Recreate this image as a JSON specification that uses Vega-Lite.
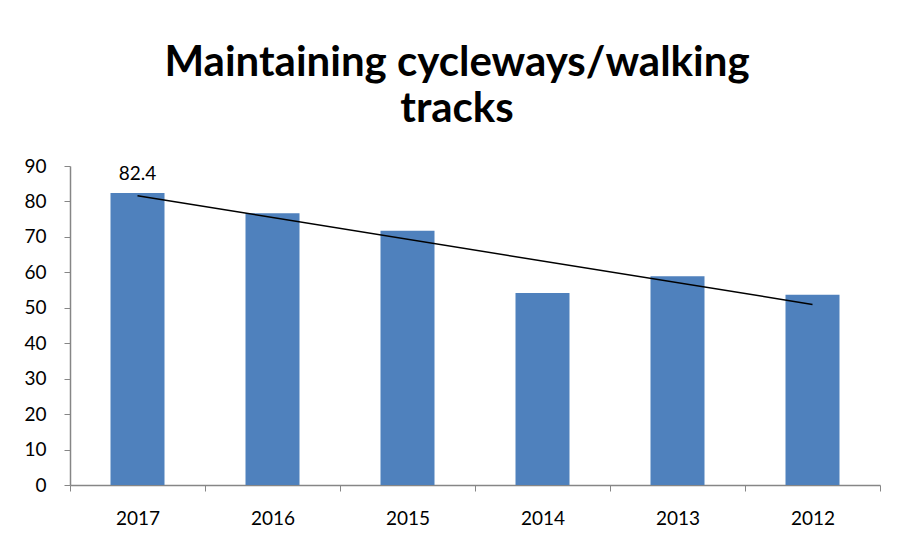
{
  "$schema": "https://vega.github.io/schema/vega-lite/v6.json",
  "width": 810,
  "height": 319,
  "autosize": "none",
  "padding": {"left": 70, "top": 166, "right": 18, "bottom": 56},
  "background": "white",
  "title": {
    "text": ["Maintaining cycleways/walking", "tracks"],
    "font": "Lato",
    "fontSize": 42,
    "fontWeight": "bold",
    "color": "#000000",
    "anchor": "middle",
    "lineHeight": 46,
    "offset": 26,
    "dx": -18
  },
  "datasets": {
    "bars": [
      {"year": "2017", "value": 82.4, "label": "82.4"},
      {"year": "2016", "value": 76.7, "label": ""},
      {"year": "2015", "value": 71.7, "label": ""},
      {"year": "2014", "value": 54.2, "label": ""},
      {"year": "2013", "value": 58.9, "label": ""},
      {"year": "2012", "value": 53.7, "label": ""}
    ],
    "trend": [
      {"year": "2017", "value": 81.6},
      {"year": "2012", "value": 50.95}
    ]
  },
  "encoding": {
    "x": {
      "field": "year",
      "type": "nominal",
      "sort": ["2017", "2016", "2015", "2014", "2013", "2012"],
      "scale": {"paddingInner": 0, "paddingOuter": 0},
      "axis": {
        "title": null,
        "labelAngle": 0,
        "labelFont": "Lato",
        "labelFontSize": 19,
        "labelColor": "#000000",
        "labelPadding": 18,
        "tickBand": "extent",
        "tickSize": 6,
        "tickColor": "#868686",
        "domainColor": "#868686",
        "domainWidth": 1.5,
        "grid": false
      }
    },
    "y": {
      "field": "value",
      "type": "quantitative",
      "scale": {"domain": [0, 90], "nice": false},
      "axis": {
        "title": null,
        "values": [0, 10, 20, 30, 40, 50, 60, 70, 80, 90],
        "labelOverlap": false,
        "grid": false,
        "labelFont": "Lato",
        "labelFontSize": 19,
        "labelColor": "#000000",
        "labelPadding": 18,
        "tickSize": 6,
        "tickColor": "#868686",
        "domainColor": "#868686",
        "domainWidth": 1.5
      }
    }
  },
  "layer": [
    {
      "data": {"name": "bars"},
      "mark": {"type": "bar", "color": "#4F81BD", "width": {"band": 0.4}}
    },
    {
      "data": {"name": "bars"},
      "mark": {"type": "text", "font": "Lato", "fontSize": 19, "color": "#000000", "baseline": "bottom", "dy": -9},
      "encoding": {
        "text": {"field": "label"}
      }
    },
    {
      "data": {"name": "trend"},
      "mark": {"type": "line", "color": "#000000", "strokeWidth": 1.5}
    }
  ],
  "config": {"view": {"stroke": null}}
}
